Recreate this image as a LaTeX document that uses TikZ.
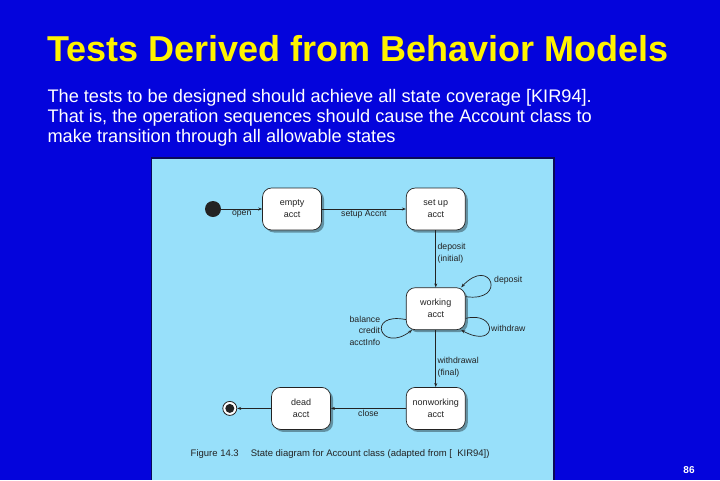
\documentclass[tikz,border=0pt]{standalone}
\usepackage{fontspec}
\setmainfont{Liberation Sans}
\usetikzlibrary{positioning,arrows.meta,shadows}
\definecolor{slideblue}{RGB}{4,4,220}
\definecolor{panelblue}{RGB}{152,224,250}
\definecolor{paneledge}{RGB}{10,10,90}
\definecolor{inkgray}{RGB}{35,35,35}

\begin{document}
\begin{tikzpicture}[
  x=1pt, y=-1pt,
  >={Stealth[length=4pt,width=3pt]},
  state/.style={rectangle, rounded corners=9pt, draw=inkgray, fill=white, line width=0.7pt,
                minimum width=59pt, minimum height=42pt, align=center, text=inkgray,
                font=\fontsize{9}{12}\selectfont,
                drop shadow={shadow xshift=2.5pt, shadow yshift=-2.5pt, fill=black, opacity=0.35}},
  trans/.style={->, line width=0.7pt, draw=inkgray},
  lbl/.style={font=\fontsize{8.7}{11.5}\selectfont, text=inkgray, inner sep=1.5pt},
]

\useasboundingbox (0,0) rectangle (720,480);
\fill[slideblue] (0,0) rectangle (720,480);
\fill[paneledge] (151,157) rectangle (555,480);
\fill[panelblue] (152,159) rectangle (553,480);

\node[anchor=base, text=yellow, font=\bfseries\fontsize{36}{40}\selectfont] (title) at (358,61)
  {Tests Derived from Behavior Models};
\node[anchor=north west, align=left, text=white, font=\fontsize{18.2}{20}\selectfont] (intro) at (44,86)
  {The tests to be designed should achieve all state coverage [KIR94].\\
   That is, the operation sequences should cause the Account class to\\
   make transition through all allowable states};

\node[circle, fill=inkgray, minimum size=16pt, inner sep=0pt] (init) at (213,209) {};
\node[state, right=41pt of init]    (empty)   {empty\\acct};
\node[state, right=84pt of empty]   (setup)   {set up\\acct};
\node[state, below=57pt of setup]   (working) {working\\acct};
\node[state, below=57pt of working] (nonwork) {nonworking\\acct};
\node[state, left=75pt of nonwork]  (dead)    {dead\\acct};
\node[circle, draw=inkgray, fill=white, line width=0.8pt, minimum size=14pt, inner sep=0pt,
      left=34pt of dead] (final) {};
\fill[inkgray] (final.center) circle (4.5pt);

\draw[trans] (init) -- node[lbl, below]{open} (empty);
\draw[trans] (empty) -- node[lbl, below]{setup Accnt} (setup);
\draw[trans] (setup) -- node[lbl, right, align=left, pos=0.4]{deposit\\(initial)} (working);
\draw[trans] (working) -- node[lbl, right, align=left, pos=0.65]{withdrawal\\(final)} (nonwork);
\draw[trans] (nonwork) -- node[lbl, below]{close} (dead);
\draw[trans] (dead) -- (final);
\draw[trans] (working.22) .. controls +(42,6) and +(30,-32) .. node[lbl, right, pos=0.55, xshift=3pt]{deposit} (working.40);
\draw[trans] (working.-18) .. controls +(32,-8) and +(37,20) .. node[lbl, right]{withdraw} (working.-40);
\draw[trans] (working.200) .. controls +(-40,-8) and +(-32,24) ..
  node[lbl, left, align=right]{balance\\credit\\acctInfo} (working.222);

\node[lbl, anchor=west, font=\fontsize{9.5}{11}\selectfont] (caption) at (189,454)
  {Figure 14.3\quad\ State diagram for Account class (adapted from [\ \ KIR94])};
\node[text=white, font=\bfseries\fontsize{10}{12}\selectfont] (pagenum) at (689,470) {86};

\end{tikzpicture}
\end{document}
